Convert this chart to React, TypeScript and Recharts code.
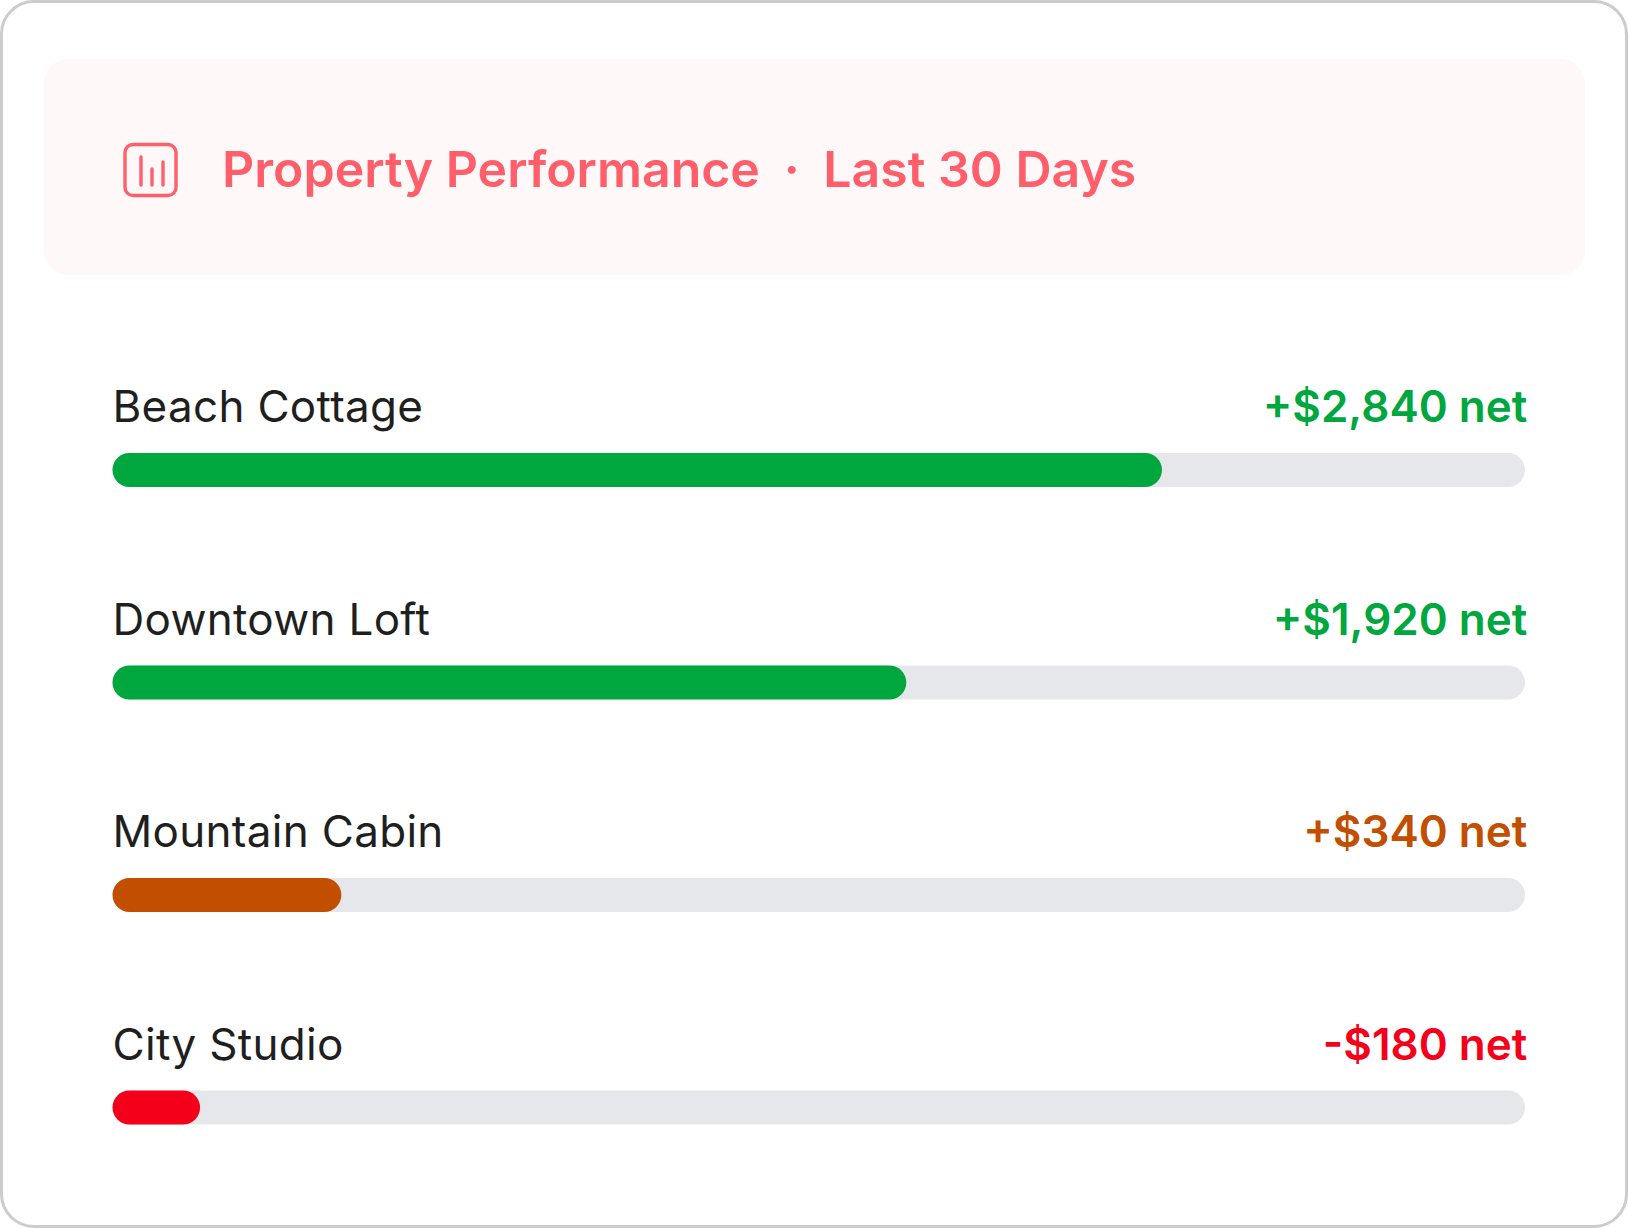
import { BarChart, Bar, XAxis, YAxis, Cell, LabelList } from 'recharts';

const properties = ['Beach Cottage', 'Downtown Loft', 'Mountain Cabin', 'City Studio'];
const barPercent = [74.3, 56.2, 16.2, 6.2];
const netLabels = ['+$2,840 net', '+$1,920 net', '+$340 net', '-$180 net'];
const barColors = ['#00a63e', '#00a63e', '#c24e00', '#f4001a'];

const chartData = properties.map((name, i) => ({ name, percent: barPercent[i] }));

const FONT = 'Inter, sans-serif';

function RowLabel(props: any) {
  const { x, y, index } = props;
  return (
    <g>
      <text x={x} y={y - 31} fontFamily={FONT} fontSize={44} fontWeight={400} letterSpacing={0.3} fill="#1f1f1f">
        {properties[index]}
      </text>
      <text x={1527.3} y={y - 31} textAnchor="end" fontFamily={FONT} fontSize={44} fontWeight={600} fill={barColors[index]}>
        {netLabels[index]}
      </text>
    </g>
  );
}

export default function App() {
  return (
    <div style={{ position: 'absolute', left: 0, top: 0, width: 1628, height: 1228, background: '#fff', fontFamily: FONT }}>
      <div
        style={{
          position: 'absolute', left: 0, top: 0, width: 1628, height: 1228, boxSizing: 'border-box',
          border: '3px solid #cccccc', borderRadius: 34,
        }}
      />
      <div style={{ position: 'absolute', left: 44, top: 59, width: 1541, height: 216, background: '#fff8f8', borderRadius: 24 }} />
      <svg style={{ position: 'absolute', left: 121, top: 141 }} width={60} height={60} viewBox="0 0 60 60" fill="none" stroke="#ff5f6b" strokeWidth={3.4} strokeLinecap="round">
        <rect x={4} y={3.5} width={51} height={51} rx={8} />
        <line x1={20} y1={16} x2={20} y2={44} />
        <line x1={31} y1={28} x2={31} y2={44} />
        <line x1={42} y1={21} x2={42} y2={44} />
      </svg>
      <div
        style={{
          position: 'absolute', left: 222, top: 134, lineHeight: '70px', fontSize: 50, fontWeight: 600,
          color: '#ff5f6b', whiteSpace: 'pre',
        }}
      >
        Property Performance<span style={{ wordSpacing: -0.75 }}>{'  ·  '}</span>Last 30 Days
      </div>
      <div style={{ position: 'absolute', left: 0, top: 0 }}>
        <BarChart
          width={1628}
          height={1228}
          data={chartData}
          layout="vertical"
          margin={{ top: 364, right: 103, bottom: 14, left: 112.5 }}
          barSize={34}
        >
          <XAxis type="number" domain={[0, 100]} hide />
          <YAxis type="category" dataKey="name" hide />
          <Bar
            dataKey="percent"
            isAnimationActive={false}
            radius={17}
            background={{ fill: '#e6e7ea', radius: 17 } as any}
          >
            {chartData.map((d, i) => (
              <Cell key={d.name} fill={barColors[i]} />
            ))}
            <LabelList dataKey="name" content={RowLabel} />
          </Bar>
        </BarChart>
      </div>
    </div>
  );
}
